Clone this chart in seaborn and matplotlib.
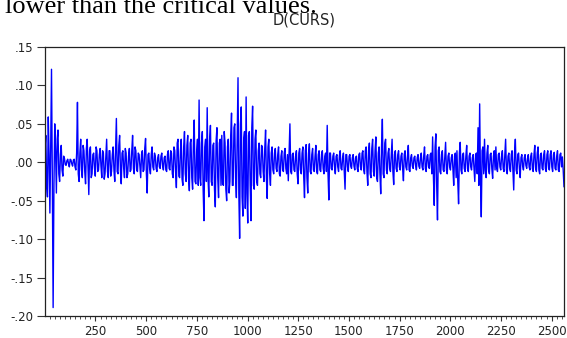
import numpy as np
import pandas as pd
import seaborn as sns
import matplotlib.pyplot as plt
from matplotlib.ticker import MultipleLocator, FuncFormatter

d_curs = [
    0.018, 0.035, -0.030, -0.045, 0.059, 0.010, -0.066, 0.020, 0.121, -0.020, -0.189, -0.030, 0.050, 0.015, -0.040, 0.030, 0.042, -0.015, -0.025, 0.010,
    0.022, -0.010, -0.018, 0.008, 0.005, -0.003, -0.004, 0.002, 0.004, -0.002, -0.006, 0.004, 0.003, -0.002, -0.005, 0.003, 0.004, -0.006, -0.010, 0.012,
    0.078, -0.015, -0.025, 0.012, 0.030, -0.010, -0.020, 0.022, 0.015, -0.012, -0.028, 0.018, 0.030, -0.008, -0.042, 0.015, 0.020, -0.020, -0.015, 0.010,
    0.012, -0.008, -0.018, 0.020, 0.015, -0.012, -0.010, 0.010, 0.018, -0.005, -0.020, 0.015, 0.012, -0.022, -0.015, 0.008, 0.030, -0.012, -0.020, 0.015,
    0.015, -0.018, -0.012, 0.010, 0.020, -0.010, -0.025, 0.018, 0.057, -0.012, -0.015, 0.022, 0.035, -0.010, -0.028, 0.012, 0.015, -0.008, -0.020, 0.018,
    0.012, -0.020, -0.015, 0.008, 0.018, -0.012, -0.010, 0.015, 0.035, -0.008, -0.015, 0.020, 0.015, -0.010, -0.012, 0.012, 0.010, -0.006, -0.020, 0.010,
    0.015, -0.012, -0.010, 0.018, 0.031, -0.015, -0.040, 0.010, 0.012, -0.008, -0.015, 0.010, 0.020, -0.006, -0.010, 0.012, 0.008, -0.008, -0.012, 0.006,
    0.010, -0.006, -0.008, 0.008, 0.012, -0.005, -0.010, 0.006, 0.008, -0.010, -0.012, 0.010, 0.015, -0.008, -0.010, 0.015, 0.012, -0.015, -0.020, 0.020,
    0.015, -0.012, -0.033, 0.025, 0.030, -0.018, -0.020, 0.015, 0.030, -0.022, -0.030, 0.020, 0.040, -0.015, -0.025, 0.022, 0.035, -0.020, -0.037, 0.025,
    0.030, -0.020, -0.035, 0.025, 0.055, -0.025, -0.028, 0.015, 0.030, -0.030, 0.081, -0.020, -0.030, 0.025, 0.040, -0.035, -0.076, 0.020, 0.030, -0.025,
    0.071, -0.020, -0.045, 0.030, 0.048, -0.025, -0.030, 0.022, 0.025, -0.035, -0.058, 0.028, 0.045, -0.020, -0.046, 0.025, 0.030, -0.030, 0.035, -0.028,
    -0.030, 0.040, 0.025, -0.035, -0.050, 0.020, 0.030, -0.040, -0.025, 0.035, 0.064, -0.030, -0.030, 0.045, 0.050, -0.020, -0.046, 0.030, 0.110, -0.040,
    -0.099, 0.050, 0.072, -0.045, -0.070, 0.030, 0.040, -0.060, 0.085, -0.040, -0.079, 0.035, 0.040, -0.030, -0.076, 0.045, 0.073, -0.030, -0.035, 0.030,
    0.042, -0.025, -0.030, 0.015, 0.025, -0.015, -0.020, 0.022, 0.020, -0.012, -0.025, 0.018, 0.042, -0.020, -0.047, 0.020, 0.030, -0.015, -0.030, 0.012,
    0.020, -0.010, -0.015, 0.012, 0.018, -0.008, -0.012, 0.010, 0.020, -0.015, -0.018, 0.008, 0.015, -0.010, -0.012, 0.012, 0.018, -0.008, -0.015, 0.010,
    -0.024, 0.015, 0.050, -0.012, -0.015, 0.010, 0.012, -0.010, -0.012, 0.008, 0.015, -0.015, -0.028, 0.012, 0.018, -0.010, -0.015, 0.012, 0.020, -0.018,
    -0.046, 0.015, 0.023, -0.020, -0.040, 0.012, 0.024, -0.012, -0.015, 0.010, 0.018, -0.010, -0.012, 0.008, 0.022, -0.012, -0.015, 0.010, 0.015, -0.010,
    -0.012, 0.010, 0.015, -0.008, -0.015, 0.008, 0.012, -0.012, 0.048, -0.015, -0.049, 0.012, 0.012, -0.008, -0.010, 0.008, 0.012, -0.006, -0.015, 0.008,
    0.010, -0.006, -0.012, 0.008, 0.015, -0.008, -0.010, 0.006, 0.012, -0.010, -0.035, 0.010, 0.010, -0.006, -0.012, 0.008, 0.010, -0.005, -0.008, 0.006,
    0.010, -0.005, -0.010, 0.006, 0.008, -0.008, -0.012, 0.010, 0.012, -0.006, -0.010, 0.012, 0.015, -0.010, -0.015, 0.015, 0.020, -0.012, -0.030, 0.015,
    0.025, -0.015, -0.020, 0.018, 0.030, -0.012, -0.018, 0.015, 0.033, -0.020, -0.025, 0.012, 0.020, -0.015, -0.041, 0.020, 0.056, -0.015, -0.020, 0.025,
    0.030, -0.010, -0.015, 0.012, 0.018, -0.008, -0.012, 0.010, 0.030, -0.012, -0.029, 0.010, 0.015, -0.008, -0.012, 0.010, 0.015, -0.006, -0.010, 0.008,
    0.012, -0.008, -0.024, 0.010, 0.015, -0.006, -0.010, 0.008, 0.022, -0.010, -0.012, 0.006, 0.010, -0.005, -0.008, 0.006, 0.008, -0.004, -0.010, 0.006,
    0.010, -0.005, -0.008, 0.006, 0.012, -0.006, -0.010, 0.008, 0.020, -0.008, -0.012, 0.008, 0.010, -0.006, -0.008, 0.010, 0.012, -0.015, 0.033, -0.020,
    -0.056, 0.020, 0.037, -0.030, -0.075, 0.015, 0.020, -0.012, -0.015, 0.010, 0.015, -0.010, -0.012, 0.008, 0.026, -0.010, -0.015, 0.008, 0.012, -0.006,
    -0.010, 0.006, 0.010, -0.008, -0.030, 0.008, 0.012, -0.020, 0.015, -0.025, -0.054, 0.012, 0.026, -0.010, -0.015, 0.010, 0.012, -0.008, -0.012, 0.008,
    0.022, -0.008, -0.012, 0.008, 0.012, -0.006, -0.010, 0.006, 0.010, -0.008, -0.025, 0.010, 0.012, -0.015, 0.045, -0.030, 0.076, -0.020, -0.071, 0.015,
    0.020, -0.015, 0.030, -0.010, -0.020, 0.012, 0.022, -0.010, -0.015, 0.010, 0.012, -0.008, -0.021, 0.008, 0.015, -0.010, 0.020, -0.008, -0.012, 0.010,
    0.012, -0.006, -0.010, 0.008, 0.015, -0.008, -0.012, 0.010, 0.030, -0.010, -0.015, 0.008, 0.012, -0.008, -0.012, 0.010, 0.015, -0.010, -0.036, 0.012,
    0.030, -0.010, -0.015, 0.010, 0.012, -0.008, -0.020, 0.006, 0.010, -0.005, -0.010, 0.006, 0.010, -0.004, -0.008, 0.005, 0.010, -0.006, -0.010, 0.008,
    0.012, -0.008, -0.012, 0.010, 0.022, -0.008, -0.012, 0.012, 0.020, -0.010, -0.015, 0.010, 0.012, -0.008, -0.010, 0.010, 0.015, -0.008, -0.012, 0.010,
    0.015, -0.008, -0.010, 0.010, 0.015, -0.006, -0.012, 0.010, 0.013, -0.008, -0.010, 0.008, 0.015, -0.010, -0.012, 0.010, 0.012, -0.006, 0.007, -0.010,
    -0.032,
]
obs_step = 4
x_ticks = [250, 500, 750, 1000, 1250, 1500, 1750, 2000, 2250, 2500]
y_ticks = [-0.20, -0.15, -0.10, -0.05, 0.00, 0.05, 0.10, 0.15]

df = pd.DataFrame({'obs': 1 + obs_step * np.arange(len(d_curs)), 'D(CURS)': d_curs})

sns.set_style('white')
plt.rcParams['font.family'] = ['DejaVu Sans']

fig = plt.figure(figsize=(5.67, 3.38), dpi=100)
ax = fig.add_axes([0.0794, 0.065, 0.9153, 0.796])
sns.lineplot(data=df, x='obs', y='D(CURS)', color='#0000ff', linewidth=1.0, ax=ax)

ax.set_xlim(1, 2561)
ax.set_ylim(-0.20, 0.15)
ax.set_xticks(x_ticks)
ax.xaxis.set_minor_locator(MultipleLocator(25))
ax.set_yticks(y_ticks)

def short_fmt(v, pos):
    s = '%.2f' % v
    if s == '-0.00':
        s = '0.00'
    return s.replace('0.', '.', 1)

ax.yaxis.set_major_formatter(FuncFormatter(short_fmt))
ax.set_xlabel('')
ax.set_ylabel('')
ax.tick_params(axis='y', which='major', direction='out', length=5.5, width=0.8,
               color='#333333', labelsize=8.5, labelcolor='#222222', pad=3)
ax.tick_params(axis='x', which='major', direction='out', length=3.6, width=0.8,
               color='#333333', labelsize=8.5, labelcolor='#222222', pad=2.6)
ax.tick_params(axis='x', which='minor', direction='out', length=2.2, width=0.6,
               color='#333333', bottom=True)
ax.tick_params(left=True, bottom=True)
for sp in ax.spines.values():
    sp.set_color('#222222')
    sp.set_linewidth(0.9)

fig.text(0.537, 0.941, 'D(CURS)', ha='center', va='center', fontsize=10.5, color='#222222')
fig.text(0.008, 1 - 12.7 / 338, 'lower than the critical values.', ha='left', va='baseline',
         fontsize=19, family=['Liberation Serif', 'DejaVu Serif'], color='black')

fig.savefig('out.png', dpi=100)
